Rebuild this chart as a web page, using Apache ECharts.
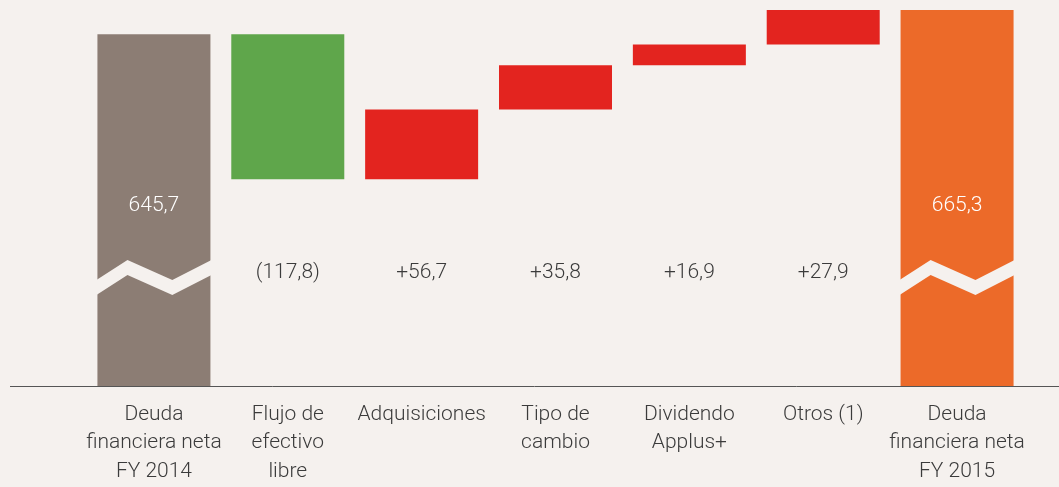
<!DOCTYPE html>
<html><head><meta charset="utf-8">
<script src="https://cdn.jsdelivr.net/npm/echarts@6/dist/echarts.min.js"></script>
<style>html,body{margin:0;padding:0;background:#f5f1ee;}#c{width:1059px;height:487px;}</style>
</head><body><div id="c"></div>
<script>
const categories = ["Deuda\nfinanciera neta\nFY 2014", "Flujo de\nefectivo\nlibre", "Adquisiciones", "Tipo de\ncambio", "Dividendo\nApplus+", "Otros (1)", "Deuda\nfinanciera neta\nFY 2015"];
const startTotal = 645.7;
const deltas = [-117.8, 56.7, 35.8, 16.9, 27.9];
const endTotal = 665.3;
const deltaLabels = ["(117,8)", "+56,7", "+35,8", "+16,9", "+27,9"];
const totalLabels = ["645,7", "665,3"];
const colors = ["#8c7d74", "#5fa64b", "#e3241f", "#e3241f", "#e3241f", "#e3241f", "#ec6a29"];

const BG = '#f5f1ee';
const TXT = '#3b3b3b';
const yMin = 360, yMax = 665.3;

// build waterfall
const base = [], vis = [];
base.push(0); vis.push(startTotal);
let cur = startTotal;
deltas.forEach(d => {
  const lo = Math.min(cur, cur + d), hi = Math.max(cur, cur + d);
  base.push(lo); vis.push(hi - lo);
  cur += d;
});
base.push(0); vis.push(endTotal);

const chart = echarts.init(document.getElementById('c'), null, {renderer: 'canvas'});
const FONT = 'Roboto, "Noto Sans", sans-serif';

const labelData = [];
deltaLabels.forEach((t, i) => labelData.push([i + 1, yMin, t, 0]));
labelData.push([0, yMin, totalLabels[0], 1]);
labelData.push([6, yMin, totalLabels[1], 1]);

chart.setOption({
  backgroundColor: BG,
  animation: false,
  grid: {left: 87, right: 35, top: 10, bottom: 101},
  xAxis: {
    type: 'category', data: categories,
    axisLine: {show: false}, axisTick: {show: false},
    axisLabel: {interval: 0, color: TXT, fontSize: 21, fontWeight: 300, lineHeight: 28.5, fontFamily: FONT, margin: 14}
  },
  yAxis: {type: 'value', min: yMin, max: yMax, show: false, splitLine: {show: false}},
  graphic: [{type: 'line', shape: {x1: 10, y1: 386.5, x2: 1059, y2: 386.5}, style: {stroke: '#555', lineWidth: 1}, z: 0}],
  series: [
    {type: 'bar', stack: 'w', data: base, barWidth: 113, itemStyle: {color: 'transparent'}, silent: true},
    {type: 'bar', stack: 'w', data: vis.map((v, i) => ({value: v, itemStyle: {color: colors[i]}})), barWidth: 113},
    {
      type: 'custom', z: 5, data: [[0, yMin], [6, yMin]],
      renderItem: function (params, api) {
        const p = api.coord([api.value(0), api.value(1)]);
        const w = 115, x0 = p[0] - w / 2, y = p[1];
        const xs = [x0, x0 + 0.27 * w, x0 + 0.66 * w, x0 + w];
        const top = [-106, -126, -106, -126];
        const pts = [];
        for (let k = 0; k < 4; k++) pts.push([xs[k], y + top[k]]);
        for (let k = 3; k >= 0; k--) pts.push([xs[k], y + top[k] + 15]);
        return {type: 'polygon', shape: {points: pts}, style: {fill: BG}};
      }
    },
    {
      type: 'custom', z: 6, data: labelData,
      renderItem: function (params, api) {
        const p = api.coord([api.value(0), api.value(1)]);
        const inside = api.value(3) === 1;
        const d = labelData[params.dataIndex];
        return {type: 'text', x: p[0], y: p[1] - (inside ? 180 : 113),
          style: {text: d[2], fill: inside ? '#ffffff' : TXT, font: '300 21px ' + FONT, align: 'center', verticalAlign: 'middle'}};
      }
    }
  ]
});
</script></body></html>
